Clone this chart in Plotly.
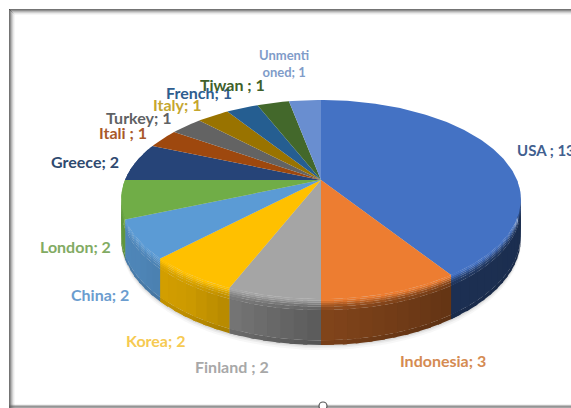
import numpy as np
import plotly.graph_objects as go

# Values per place, clockwise from twelve o'clock
places = ["USA ", "Indonesia", "Finland ", "Korea", "China", "London", "Greece",
          "Itali ", "Turkey", "Italy", "French", "Tiwan ", "Unmenti<br>oned"]
counts = [13, 3, 2, 2, 2, 2, 2, 1, 1, 1, 1, 1, 1]
top_colors = ["#4472c4", "#ed7d31", "#a5a5a5", "#ffc000", "#5b9bd5", "#70ad47", "#264478",
              "#9e480e", "#636363", "#997300", "#255e91", "#43682b", "#698ed0"]
label_colors = ["#41608f", "#d58b52", "#a8a8a8", "#f6ca52", "#6b9dcf", "#82ab63", "#2f4a70",
                "#a9592a", "#5f6264", "#c5a62f", "#2f5d8f", "#40602a", "#7f9cc9"]
label_x = [515, 443, 232, 155, 100, 75, 85, 123, 139, 177, 199, 232, 284]
label_y = [150, 360, 366, 340, 294, 246, 161, 132, 117, 104, 92, 84, 63]
label_anchor = ["left"] + ["center"] * 12

# Projection of the tilted disc onto the page, in pixels
CX, CY = 321, 180
RX, RY, PERSP, DEPTH = 196, 95.7, 0.196, 37


def project(theta_deg, depth=0.0):
    t = np.radians(theta_deg)
    u, v = np.sin(t), np.cos(t)
    w = 1 + PERSP * v
    return CX + RX * u / w, CY - RY * v / w + DEPTH * depth / w


def rgb(color, factor):
    c = [int(color[i:i + 2], 16) for i in (1, 3, 5)]
    return "rgb(%d,%d,%d)" % tuple(min(255, max(0, x * factor)) for x in c)


fig = go.Figure()


def polygon(xs, ys, color, opacity=1.0):
    fig.add_trace(go.Scatter(x=xs, y=ys, mode="lines", fill="toself", fillcolor=color,
                             line=dict(width=0), opacity=opacity,
                             hoverinfo="skip", showlegend=False))


# Soft shadow under the disc
for grow, alpha in [(5, 0.05), (3, 0.07), (1.5, 0.10)]:
    th = np.linspace(85, 285, 90)
    sx, sy = project(th, 1.0)
    polygon(np.r_[sx, CX], np.r_[sy + grow, CY], "rgb(90,90,90)", alpha)

edges = np.r_[0, np.cumsum(counts)] / np.sum(counts) * 360

# Rim shading: light falls from the left, and the upper edge is bevelled
rim_angle = [90, 146, 180, 214, 236, 258, 270, 290]
rim_light = [0.40, 0.42, 0.55, 0.80, 0.86, 0.88, 0.86, 0.8]
bands = [0, 0.04, 0.08, 0.12, 0.17, 0.24, 0.9, 1.0]
band_mix = [1.0, 0.8, 0.55, 0.3, 0.12, 0.0, -0.08]

# Each cell overlaps the next so that neighbouring cells leave no seams.
for b, mix in reversed(list(enumerate(band_mix))):
    for i, color in enumerate(top_colors):
        a0, a1 = max(edges[i], 90), min(edges[i + 1], 290)
        if a1 <= a0:
            continue
        cuts = np.linspace(a0, a1, int(max(2, (a1 - a0) / 3)) + 1)
        for c0, c1 in zip(cuts[:-1], cuts[1:]):
            light = np.interp((c0 + c1) / 2, rim_angle, rim_light)
            th = np.linspace(c0, a1 if c1 + 3.5 > a1 else c1 + 1.0, 3)
            x0, y0 = project(th, bands[b])
            x1, y1 = project(th[::-1], bands[b + 1])
            factor = light + (1 - light) * mix if mix >= 0 else light * (1 + mix)
            polygon(np.r_[x0, x1], np.r_[y0, y1], rgb(color, factor))

# Top face, one wedge per place
for i, color in enumerate(top_colors):
    th = np.linspace(edges[i], edges[i + 1], max(3, int(edges[i + 1] - edges[i])))
    x, y = project(th)
    polygon(np.r_[CX, x, CX], np.r_[CY, y, CY], color)

# Labels read "name; count"
annotations = []
for name, n, col, lx, ly, anchor in zip(places, counts, label_colors, label_x, label_y, label_anchor):
    size = 13 if "<br>" in name else (15 if anchor == "left" else 16)
    annotations.append(dict(x=lx, y=ly, xref="x", yref="y", text="<b>%s; %d</b>" % (name, n),
                            showarrow=False, xanchor=anchor, yanchor="middle",
                            font=dict(family="Lato", size=size, color=col)))

# Chart-area frame with its blurred edge, and the resize handle at the bottom
shapes = []
for k, alpha in enumerate([0.75, 0.6, 0.4, 0.25, 0.12, 0.05]):
    col = "rgba(70,70,70,%.2f)" % alpha
    shapes.append(dict(type="rect", x0=9 + k, x1=10 + k, y0=9 + k, y1=408, fillcolor=col, line_width=0, layer="below"))
    shapes.append(dict(type="rect", x0=9 + k, x1=571, y0=9 + k, y1=10 + k, fillcolor=col, line_width=0, layer="below"))
for k, alpha in enumerate([0.08, 0.4, 0.65, 0.55]):
    shapes.append(dict(type="rect", x0=9, x1=571, y0=404 + k, y1=405 + k,
                       fillcolor="rgba(90,90,90,%.2f)" % alpha, line_width=0, layer="below"))
shapes.append(dict(type="circle", x0=319, x1=327, y0=402, y1=410, fillcolor="white",
                   line=dict(color="#555555", width=1.2)))

fig.update_layout(
    width=571, height=408, margin=dict(l=0, r=0, t=0, b=0),
    paper_bgcolor="white", plot_bgcolor="white", showlegend=False,
    xaxis=dict(range=[0, 571], visible=False, fixedrange=True),
    yaxis=dict(range=[408, 0], visible=False, fixedrange=True),
    annotations=annotations, shapes=shapes,
)
fig.write_html("out.html", config=dict(displayModeBar=False))
